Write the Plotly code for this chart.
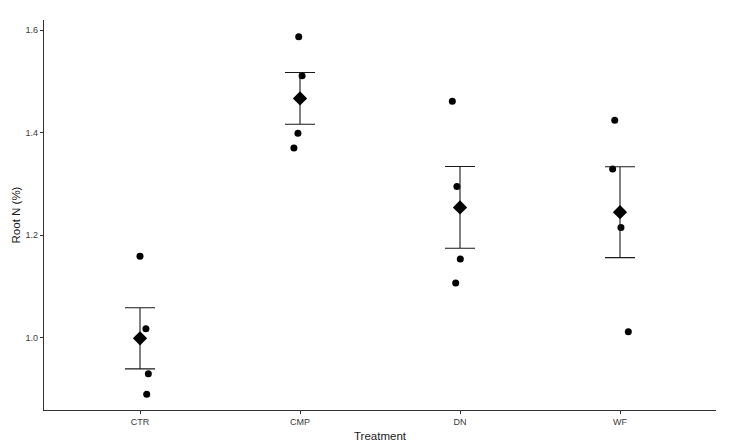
import numpy as np
import plotly.graph_objects as go

categories = ["CTR", "CMP", "DN", "WF"]
values = {
    "CTR": [1.159, 1.018, 0.930, 0.890],
    "CMP": [1.587, 1.511, 1.399, 1.370],
    "DN": [1.461, 1.295, 1.154, 1.107],
    "WF": [1.424, 1.329, 1.215, 1.012],
}
jitter = {
    "CTR": [0.0, 0.037, 0.052, 0.042],
    "CMP": [-0.008, 0.013, -0.013, -0.038],
    "DN": [-0.048, -0.019, 0.002, -0.027],
    "WF": [-0.033, -0.046, 0.006, 0.052],
}
y_ticks = [1.0, 1.2, 1.4, 1.6]

px_x, px_y = [], []
for i, c in enumerate(categories):
    for v, j in zip(values[c], jitter[c]):
        px_x.append(i + j)
        px_y.append(v)

means = [float(np.mean(values[c])) for c in categories]
ses = [float(np.std(values[c], ddof=1) / np.sqrt(len(values[c]))) for c in categories]

fig = go.Figure()
fig.add_trace(go.Scatter(
    x=px_x, y=px_y, mode="markers",
    marker=dict(color="black", size=7, symbol="circle"),
    showlegend=False, hoverinfo="y"))
fig.add_trace(go.Scatter(
    x=list(range(len(categories))), y=means, mode="markers",
    marker=dict(color="black", size=11, symbol="diamond"),
    error_y=dict(type="data", array=ses, visible=True, color="#1a1a1a",
                 thickness=1.1, width=15),
    showlegend=False, hoverinfo="y"))

font = "Liberation Sans, Arial, sans-serif"
# the page adds an 8px body margin, so the figure is sized to fit inside it
fig.update_layout(
    width=725, height=437,
    margin=dict(l=36, r=17, t=12, b=35, autoexpand=False),
    plot_bgcolor="white", paper_bgcolor="white",
    font=dict(family=font),
    xaxis=dict(
        range=[-0.6, 3.6], tickmode="array", automargin=False,
        tickvals=list(range(len(categories))), ticktext=categories,
        showgrid=False, zeroline=False, showline=True, linecolor="#333333",
        linewidth=1.2, ticks="outside", ticklen=3, tickcolor="#333333",
        tickfont=dict(size=9, color="#3a3a3a", family=font),
        title=dict(text="Treatment", font=dict(size=11.5, color="#1a1a1a"), standoff=6),
    ),
    yaxis=dict(
        range=[0.8595, 1.6195], tickmode="array", automargin=False,
        tickvals=y_ticks, ticktext=[f"{t:.1f}" for t in y_ticks],
        showgrid=False, zeroline=False, showline=True, linecolor="#333333",
        linewidth=1.2, ticks="outside", ticklen=3, tickcolor="#333333",
        tickfont=dict(size=9, color="#3a3a3a", family=font),
        title=dict(text="Root N (%)", font=dict(size=11.5, color="#1a1a1a"), standoff=2),
    ),
)
fig.write_html("out.html")
